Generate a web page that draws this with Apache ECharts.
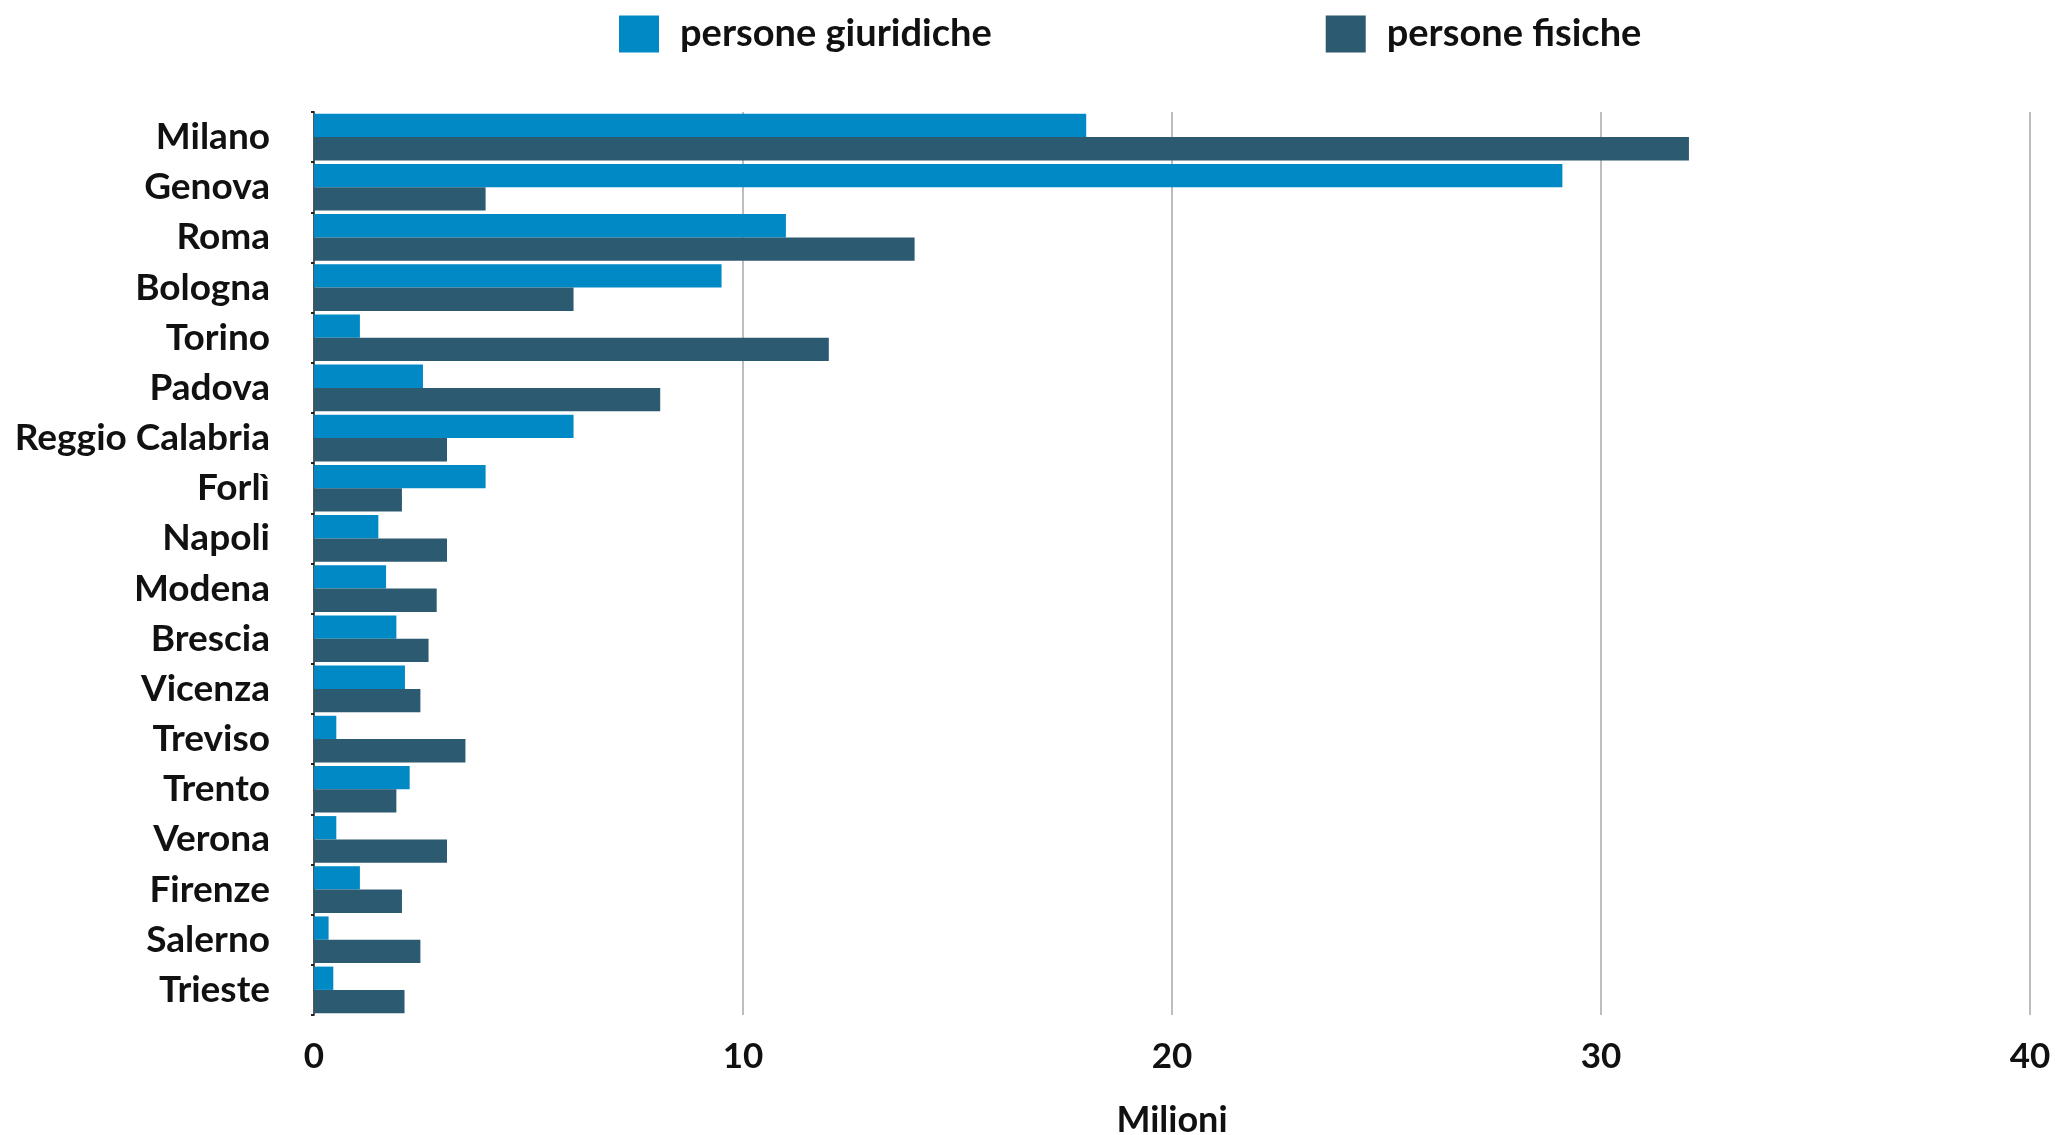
<!DOCTYPE html>
<html><head><meta charset="utf-8">
<script src="https://cdn.jsdelivr.net/npm/echarts@6/dist/echarts.min.js"></script>
<style>html,body{margin:0;padding:0;background:#fff}#c{width:2058px;height:1135px}</style>
</head><body><div id="c"></div>
<script>
const categories = ["Milano","Genova","Roma","Bologna","Torino","Padova","Reggio Calabria","Forlì","Napoli","Modena","Brescia","Vicenza","Treviso","Trento","Verona","Firenze","Salerno","Trieste"];
const personeGiuridiche = [18.0, 29.1, 11.0, 9.5, 1.07, 2.54, 6.05, 4.0, 1.5, 1.68, 1.92, 2.12, 0.52, 2.23, 0.52, 1.07, 0.34, 0.45];
const personeFisiche = [32.05, 4.0, 14.0, 6.05, 12.0, 8.07, 3.1, 2.05, 3.1, 2.86, 2.67, 2.48, 3.53, 1.92, 3.1, 2.05, 2.48, 2.11];
const xTicks = [0, 10, 20, 30, 40];

const FONT = 'Lato';
const chart = echarts.init(document.getElementById('c'), null, {renderer: 'canvas'});
chart.setOption({
  animation: false,
  legend: {
    top: 10, left: 614, itemWidth: 40, itemHeight: 37, itemGap: 334,
    icon: 'rect',
    textStyle: {fontFamily: FONT, fontWeight: 'bold', fontSize: 38, color: '#111', padding: [0,0,0,16]},
    data: ['persone giuridiche', 'persone fisiche']
  },
  grid: {left: 314, right: 28, top: 112, bottom: 120, outerBoundsMode: 'none', containLabel: false},
  xAxis: {
    type: 'value', min: xTicks[0], max: xTicks[xTicks.length-1], interval: 10,
    name: 'Milioni', nameLocation: 'middle', nameGap: 87,
    nameTextStyle: {fontFamily: FONT, fontWeight: 'bold', fontSize: 36, color: '#111'},
    axisLine: {show: false}, axisTick: {show: false},
    axisLabel: {fontFamily: FONT, fontWeight: 'bold', fontSize: 35, color: '#111', margin: 24},
    splitLine: {show: true, lineStyle: {color: '#bdbdbd', width: 2}}
  },
  yAxis: {
    type: 'category', data: categories, inverse: true,
    axisLine: {show: true, lineStyle: {color: '#555', width: 2}},
    axisTick: {show: true, length: 3, lineStyle: {color: '#222', width: 2}},
    axisLabel: {fontFamily: FONT, fontWeight: 'bold', fontSize: 37, color: '#111', margin: 44}
  },
  series: [
    {name: 'persone giuridiche', type: 'bar', data: personeGiuridiche, itemStyle: {color: '#0089c4'}, barGap: '0%', barCategoryGap: '7%'},
    {name: 'persone fisiche', type: 'bar', data: personeFisiche, itemStyle: {color: '#2c5a71'}, barGap: '0%', barCategoryGap: '7%'}
  ]
});
</script></body></html>
